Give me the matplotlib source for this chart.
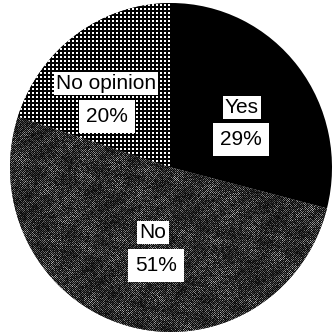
import numpy as np
import matplotlib
matplotlib.use('Agg')
import matplotlib.pyplot as plt

# ---- data ----
categories = ['Yes', 'No', 'No opinion']
shares = [29, 51, 20]
pct_labels = ['29%', '51%', '20%']

# ---- layout (pixel geometry of the reference) ----
W = H = 333
CX, CY = 171.0, 167.5      # circle centre in pixels (y from top)
RX, RY = 161.0, 164.5      # radii in pixels

def px(x, y):
    return ((x - CX) / RX, (CY - y) / RY)

plt.rcParams['font.family'] = ['Liberation Sans', 'DejaVu Sans']

fig = plt.figure(figsize=(W / 100, H / 100), dpi=100)
ax = fig.add_axes([0, 0, 1, 1])
wedges, _ = ax.pie(shares, startangle=90, counterclock=False,
                   colors=['black', '#444444', '#333333'],
                   wedgeprops=dict(linewidth=0))
x0, x1 = -CX / RX, (W - CX) / RX
y0, y1 = -(H - CY) / RY, CY / RY
ax.set_xlim(x0, x1)
ax.set_ylim(y0, y1)
ax.set_aspect('auto')
ax.axis('off')

# ---- textures (pure styling) ----
yy, xx = np.mgrid[0:H, 0:W]
h1 = (((xx * 73856093) ^ (yy * 19349663)) % 97) / 96.0
h2 = (((xx * 83492791) ^ (yy * 2654435761)) % 89) / 88.0
# slow, patchy modulation to mimic a scanned halftone
mod = 0.75 + 0.25 * np.sin(xx / 7.3 + np.sin(yy / 11.0) * 2.0) * np.cos(yy / 5.9 + xx / 17.0)

# dotted screen for "No opinion"
dots = ((xx % 4 < 2) & (yy % 4 < 2)).astype(float)
# fine noisy screen for "No"
checker = ((xx + yy) % 2 == 0)
noisy = np.clip(np.where(checker, (0.15 + 0.6 * h1) * mod, 0.08 * h2), 0, 1)

for wedge, tex in [(wedges[1], noisy), (wedges[2], dots)]:
    img = np.dstack([tex, tex, tex])
    im = ax.imshow(img, extent=(x0, x1, y0, y1), origin='upper',
                   interpolation='nearest', aspect='auto', zorder=2)
    im.set_clip_path(wedge)

# ---- labels ----
FS = 15
name_pos = {'Yes': (242, 113), 'No': (153, 238), 'No opinion': (106, 89)}
pct_pos = {'Yes': (241, 145), 'No': (156, 271), 'No opinion': (107, 122)}
for cat, pct in zip(categories, pct_labels):
    ax.text(*px(*name_pos[cat]), cat, ha='center', va='baseline', fontsize=FS,
            zorder=5, bbox=dict(boxstyle='square,pad=0.1', fc='white', ec='none'))
    ax.text(*px(*pct_pos[cat]), pct, ha='center', va='baseline', fontsize=FS,
            zorder=5, bbox=dict(boxstyle='square,pad=0.35', fc='white', ec='none'))

fig.savefig('out.png', dpi=100, facecolor='white')
